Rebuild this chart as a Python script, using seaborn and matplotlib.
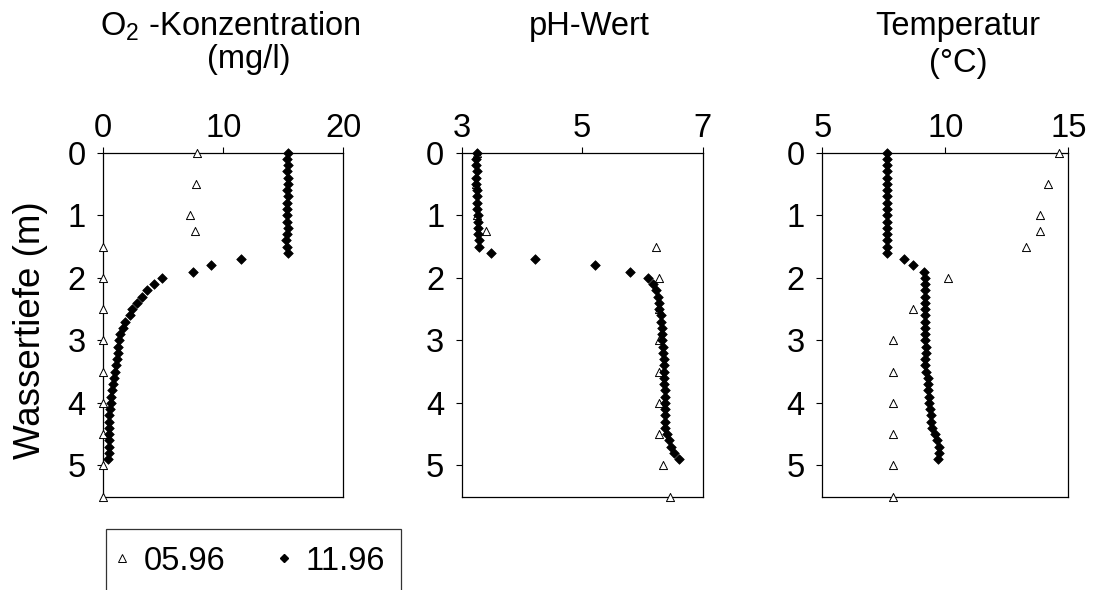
import numpy as np
import pandas as pd
import seaborn as sns
import matplotlib.pyplot as plt
from matplotlib.lines import Line2D

# depths (m)
depth_may = [0, 0.5, 1, 1.25, 1.5, 2, 2.5, 3, 3.5, 4, 4.5, 5, 5.5]
depth_nov = [0.0, 0.1, 0.2, 0.3, 0.4, 0.5, 0.6, 0.7, 0.8, 0.9,
             1.0, 1.1, 1.2, 1.3, 1.4, 1.5, 1.6, 1.7, 1.8, 1.9,
             2.0, 2.1, 2.2, 2.3, 2.4, 2.5, 2.6, 2.7, 2.8, 2.9,
             3.0, 3.1, 3.2, 3.3, 3.4, 3.5, 3.6, 3.7, 3.8, 3.9,
             4.0, 4.1, 4.2, 4.3, 4.4, 4.5, 4.6, 4.7, 4.8, 4.9]

# 05.96
o2_may = [7.8, 7.7, 7.2, 7.6, 0, 0, 0, 0, 0, 0, 0, 0, 0]
ph_may = [3.26, 3.24, 3.26, 3.4, 6.22, 6.28, 6.28, 6.28, 6.28, 6.27, 6.28, 6.34, 6.46]
temp_may = [14.63, 14.16, 13.85, 13.85, 13.27, 10.1, 8.68, 7.89, 7.89, 7.89, 7.89, 7.89, 7.89]

# 11.96
o2_nov = [15.4, 15.3, 15.4, 15.3, 15.4, 15.4, 15.3, 15.4, 15.3, 15.3,
          15.3, 15.3, 15.4, 15.3, 15.2, 15.3, 15.4, 11.5, 9.0, 7.5,
          4.9, 4.2, 3.6, 3.2, 2.8, 2.4, 2.2, 1.8, 1.6, 1.4,
          1.3, 1.25, 1.2, 1.1, 1.05, 0.95, 0.85, 0.8, 0.7, 0.65,
          0.6, 0.55, 0.5, 0.5, 0.5, 0.45, 0.45, 0.45, 0.45, 0.4]
ph_nov = [3.25, 3.24, 3.24, 3.25, 3.24, 3.24, 3.25, 3.25, 3.25, 3.26,
          3.27, 3.27, 3.27, 3.27, 3.28, 3.29, 3.48, 4.21, 5.21, 5.79,
          6.1, 6.18, 6.23, 6.25, 6.27, 6.28, 6.3, 6.31, 6.32, 6.32,
          6.33, 6.34, 6.34, 6.35, 6.35, 6.35, 6.36, 6.36, 6.37, 6.37,
          6.37, 6.37, 6.38, 6.38, 6.38, 6.41, 6.44, 6.48, 6.52, 6.6]
temp_nov = [7.62, 7.62, 7.61, 7.62, 7.62, 7.61, 7.62, 7.62, 7.61, 7.62,
            7.62, 7.62, 7.61, 7.62, 7.62, 7.61, 7.62, 8.34, 8.67, 9.12,
            9.16, 9.17, 9.17, 9.18, 9.18, 9.18, 9.18, 9.18, 9.18, 9.19,
            9.19, 9.2, 9.2, 9.18, 9.19, 9.2, 9.28, 9.3, 9.31, 9.33,
            9.35, 9.37, 9.4, 9.43, 9.45, 9.58, 9.68, 9.73, 9.74, 9.72]

may = pd.DataFrame({"depth": depth_may, "o2": o2_may, "ph": ph_may, "temp": temp_may})
nov = pd.DataFrame({"depth": depth_nov, "o2": o2_nov, "ph": ph_nov, "temp": temp_nov})

sns.set_theme(style="white")
plt.rcParams["font.family"] = ["Liberation Sans", "DejaVu Sans"]
plt.rcParams["mathtext.fontset"] = "custom"
plt.rcParams["mathtext.rm"] = "Liberation Sans"
plt.rcParams["text.color"] = "black"

FS = 23.5
W, H = 1093, 590
fig = plt.figure(figsize=(W / 100, H / 100), dpi=100)

# pixel edges of the three panels
panels = [
    ("o2", 103.3, 343.3, (0, 20), [0, 10, 20]),
    ("ph", 461.7, 702.7, (3, 7), [3, 5, 7]),
    ("temp", 822.3, 1068.3, (5, 15), [5, 10, 15]),
]
top, bottom = 152.7, 496.7

for col, x0, x1, xlim, xticks in panels:
    ax = fig.add_axes([x0 / W, 1 - bottom / H, (x1 - x0) / W, (bottom - top) / H])
    sns.scatterplot(data=may, x=col, y="depth", ax=ax, marker="^", s=34,
                    facecolor="white", edgecolor="black", linewidth=0.7,
                    clip_on=False, zorder=3)
    sns.scatterplot(data=nov, x=col, y="depth", ax=ax, marker="D", s=24,
                    color="black", edgecolor="black", linewidth=0.5,
                    clip_on=False, zorder=4)
    ax.set_xlim(*xlim)
    ax.set_ylim(5.5, 0)
    ax.set_xticks(xticks)
    ax.set_yticks([0, 1, 2, 3, 4, 5])
    ax.xaxis.tick_top()
    ax.tick_params(axis="x", direction="out", length=4.5, width=0.8, pad=2,
                   labelsize=FS, colors="black")
    ax.tick_params(axis="y", direction="out", length=4.5, width=0.8, pad=8,
                   labelsize=FS, colors="black", left=True)
    ax.set_xlabel("")
    ax.set_ylabel("")
    for sp in ax.spines.values():
        sp.set_color("black")
        sp.set_linewidth(0.9)

# titles
fig.text(100 / W, 1 - 35 / H, r"O$_\mathregular{2}$ -Konzentration", fontsize=FS,
         ha="left", va="baseline")
fig.text(249 / W, 1 - 68 / H, "(mg/l)", fontsize=FS, ha="center", va="baseline")
fig.text(589 / W, 1 - 35 / H, "pH-Wert", fontsize=FS, ha="center", va="baseline")
fig.text(958 / W, 1 - 35 / H, "Temperatur", fontsize=FS, ha="center", va="baseline")
fig.text(958 / W, 1 - 72 / H, "(°C)", fontsize=FS, ha="center", va="baseline")
fig.text(31 / W, 1 - 330 / H, "Wassertiefe (m)", fontsize=26.5, rotation=90,
         ha="center", va="center")

handles = [
    Line2D([], [], marker="^", linestyle="none", markersize=6,
           markerfacecolor="white", markeredgecolor="black", markeredgewidth=0.7),
    Line2D([], [], marker="D", linestyle="none", markersize=4.5,
           markerfacecolor="black", markeredgecolor="black"),
]
leg = fig.legend(handles, ["05.96", "11.96"], loc="upper left",
                 bbox_to_anchor=(106 / W, 1 - 529.3 / H), ncol=2, fontsize=FS,
                 frameon=True, fancybox=False, borderpad=0.5, handlelength=0.0,
                 handletextpad=0.65, columnspacing=1.8, borderaxespad=0)
leg.get_frame().set_edgecolor("black")
leg.get_frame().set_linewidth(0.9)

fig.savefig("out.png", dpi=100)
